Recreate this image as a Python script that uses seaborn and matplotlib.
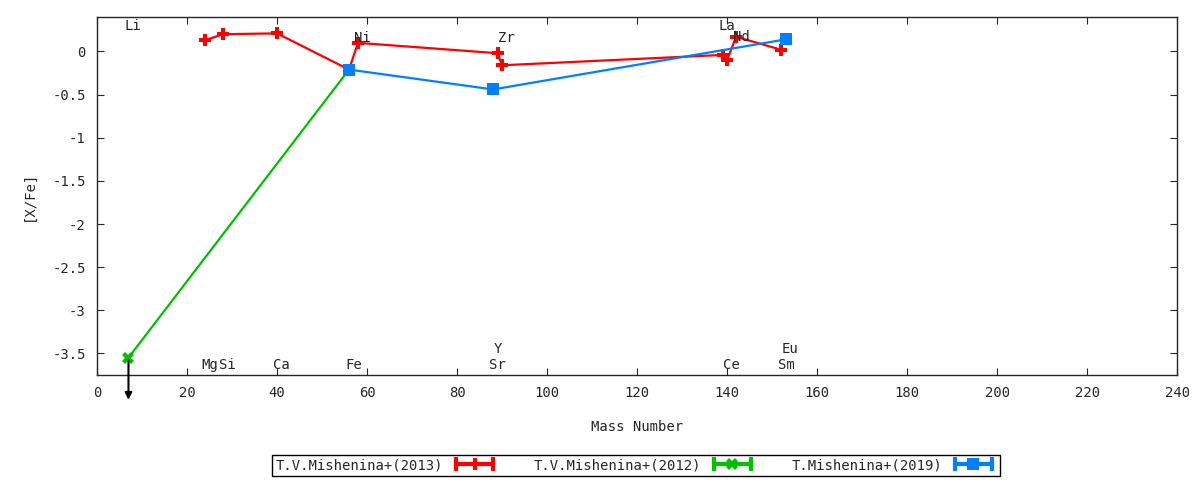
import pandas as pd
import matplotlib.pyplot as plt
import seaborn as sns
from matplotlib.lines import Line2D
from matplotlib.legend_handler import HandlerLine2D, HandlerTuple
from matplotlib.ticker import MultipleLocator, FormatStrFormatter

# T.V.Mishenina+(2013)
mass_2013 = [24, 28, 40, 56, 58, 89, 90, 139, 140, 142, 152]
xfe_2013 = [0.13, 0.20, 0.21, -0.21, 0.10, -0.02, -0.16, -0.04, -0.10, 0.17, 0.02]

# T.V.Mishenina+(2012)
mass_2012 = [7, 56]
xfe_2012 = [-3.55, -0.21]

# T.Mishenina+(2019)
mass_2019 = [56, 88, 153]
xfe_2019 = [-0.21, -0.44, 0.14]

# element labels
elem_names = ["Li", "Ni", "Zr", "La", "Nd",
              "Mg", "Si", "Ca", "Fe", "Sr", "Y", "Ce", "Sm", "Eu"]
elem_mass = [7, 58, 90, 139, 142,
             24, 28, 40, 56, 88, 89, 140, 152, 153]
elem_ypos = [0.29, 0.16, 0.16, 0.29, 0.17,
             -3.63, -3.63, -3.63, -3.63, -3.63, -3.45, -3.63, -3.63, -3.45]

series_names = ["T.V.Mishenina+(2013)", "T.V.Mishenina+(2012)", "T.Mishenina+(2019)"]
colors = ["#ff0000", "#00c000", "#0080ff"]
markers = ["P", "X", "s"]

sns.set_style("ticks")
plt.rcParams['font.family'] = ['DejaVu Sans Mono']
plt.rcParams['axes.unicode_minus'] = False

fig = plt.figure(figsize=(12, 4.8), dpi=100)
ax = fig.add_axes([0.0808, 0.21875, 0.9002, 0.7459])

data = [(mass_2013, xfe_2013), (mass_2012, xfe_2012), (mass_2019, xfe_2019)]
for (m, v), name, c, mk in zip(data, series_names, colors, markers):
    df = pd.DataFrame({"mass": m, "xfe": v})
    sns.lineplot(data=df, x="mass", y="xfe", color=c, marker=mk, markersize=8,
                 markeredgewidth=0, linewidth=1.6, estimator=None, sort=False,
                 legend=False, ax=ax)

# upper limit arrow on Li
ax.annotate("", xy=(mass_2012[0], -4.07), xytext=(mass_2012[0], xfe_2012[0]),
            arrowprops=dict(arrowstyle="-|>", color="black", lw=1.5, mutation_scale=10),
            annotation_clip=False)

for n, m, y in zip(elem_names, elem_mass, elem_ypos):
    ax.text(m - 0.8, y, n, ha="left", va="center", fontsize=10)

ax.set_xlim(0, 240)
ax.set_ylim(-3.75, 0.4)
ax.xaxis.set_major_locator(MultipleLocator(20))
ax.yaxis.set_major_locator(MultipleLocator(0.5))
ax.yaxis.set_major_formatter(FormatStrFormatter("%g"))
ax.tick_params(direction="in", top=True, right=True, length=5, labelsize=10, pad=8)
for s in ax.spines.values():
    s.set_linewidth(1)
ax.set_xlabel("Mass Number", fontsize=10, labelpad=14)
ax.set_ylabel("[X/Fe]", fontsize=10, labelpad=12)

handles = []
hmap = {}
for c, mk in zip(colors, markers):
    caps = Line2D([], [], color=c, lw=3, marker="|", markersize=10, markeredgewidth=3)
    pt = Line2D([], [], color=c, lw=0, marker=mk, markersize=8, markeredgewidth=0)
    hmap[caps] = HandlerLine2D(numpoints=2)
    handles.append((caps, pt))
hmap[tuple] = HandlerTuple(ndivide=1, pad=0)
leg = fig.legend(handles, series_names, handler_map=hmap, ncol=3, markerfirst=False,
                 loc="center", bbox_to_anchor=(0.53, 0.031), fontsize=10,
                 handlelength=3.3, handletextpad=0.6, columnspacing=2.6,
                 borderpad=0.25, fancybox=False, edgecolor="black", framealpha=1)
leg.get_frame().set_linewidth(1)

plt.savefig("out.png", dpi=100)
